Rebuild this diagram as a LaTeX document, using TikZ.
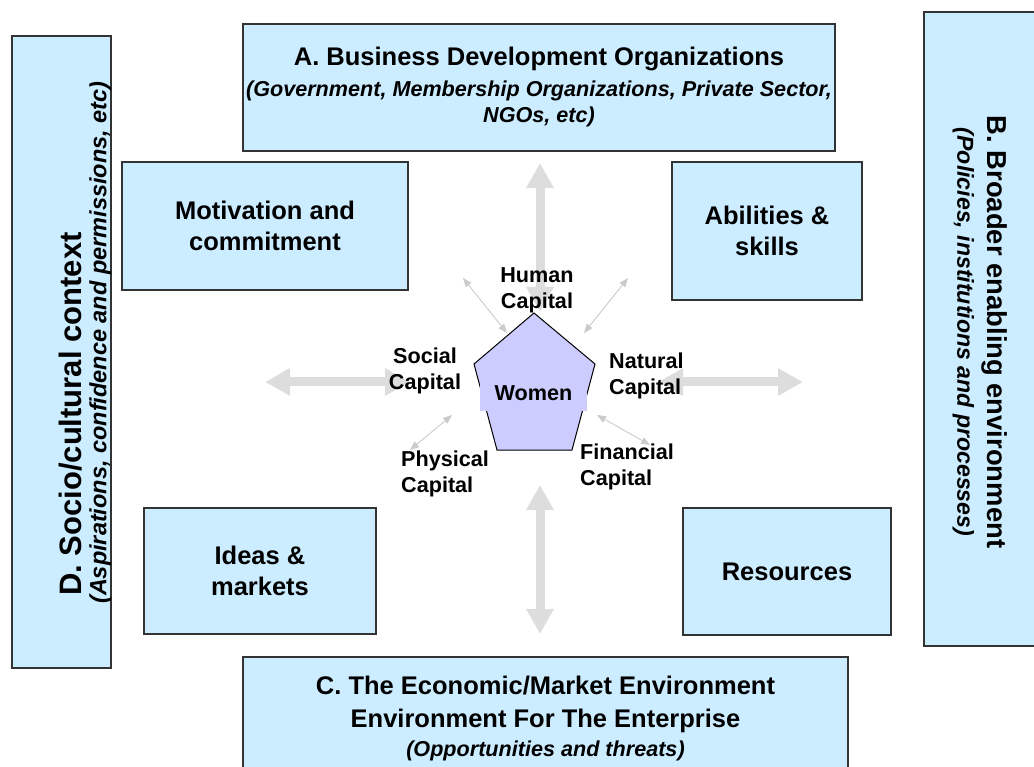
\documentclass[tikz,border=0pt]{standalone}
\usepackage{fontspec}
\setmainfont{Liberation Sans}
\usepackage{xcolor}
\usetikzlibrary{positioning,arrows.meta}

\definecolor{boxblue}{HTML}{CCECFF}
\definecolor{pentblue}{HTML}{CCCCFF}
\definecolor{arrowgrey}{HTML}{DDDDDD}
\newcommand{\boxfont}{\fontsize{25.5}{31}\selectfont\bfseries}
\newcommand{\capfont}{\fontsize{21.6}{26}\selectfont\bfseries}
\newcommand{\sidefont}{\fontsize{27.4}{33}\selectfont\bfseries}
\newcommand{\sidesubfont}{\fontsize{23.1}{28}\selectfont\bfseries\itshape}

\begin{document}
\begin{tikzpicture}[x=1pt, y=-1pt,
  box/.style={draw=black!80, line width=1.2pt, fill=boxblue, align=center, font=\boxfont, inner sep=0pt},
  caplabel/.style={align=center, font=\capfont, inner sep=0pt},
  bigarr/.style={draw=arrowgrey, line width=9pt, {Triangle[length=25pt,width=26pt]}-{Triangle[length=25pt,width=26pt]}},
  thinarr/.style={draw=arrowgrey!92!black, line width=0.9pt, {Triangle[length=9pt,width=7pt]}-{Triangle[length=9pt,width=7pt]}}]
\useasboundingbox (0,0) rectangle (1034,767);
\clip (0,0) rectangle (1034,767);

% outer frame
\node[box, minimum width=592pt, minimum height=127pt] (orgs) at (539,87.5)
  {A. Business Development Organizations\\
   \capfont\itshape (Government, Membership Organizations, Private Sector,\\[-5pt]
   \capfont\itshape NGOs, etc)};
\node[box, line width=1.8pt, minimum width=121pt, minimum height=634pt] (policy) at (984.5,329) {};
\node[font=\sidefont, align=center, rotate=-90, inner sep=0pt] (policytxt) at (980,332)
  {B. Broader enabling environment\\[-3pt]
   \sidesubfont (Policies, institutions and processes)};
\node[box, minimum width=605pt, minimum height=123pt] (econ) at (545.5,718.5)
  {C. The Economic/Market Environment\\[2pt]
   Environment For The Enterprise\\[-2pt]
   \capfont\itshape (Opportunities and threats)};
\node[box, minimum width=99pt, minimum height=632pt] (social) at (61.5,352) {};
\node[font=\fontsize{31}{25}\selectfont\bfseries, align=left, rotate=90, anchor=west, inner sep=0pt] (socialtxt) at (85,604)
  {\hspace*{8pt}D. Socio/cultural context\\
   \fontsize{23.5}{25}\selectfont\itshape (Aspirations, confidence and permissions, etc)};

% inner boxes
\node[box, minimum width=286pt, minimum height=128pt] (motiv) at (265,226) {Motivation and\\commitment};
\node[box, minimum width=190pt, minimum height=138pt] (skills) at (767,231) {Abilities \&\\skills};
\node[box, minimum width=232pt, minimum height=126pt] (ideas) at (260,571) {Ideas \&\\markets};
\node[box, minimum width=208pt, minimum height=127pt] (res) at (787,571.5) {Resources};

% big arrows
\coordinate (upA) at (540,163);
\coordinate (upB) at (540,312);
\coordinate (dnA) at (540,485);
\coordinate (dnB) at (540,634);
\coordinate (ltA) at (265,382);
\coordinate (ltB) at (410,382);
\coordinate (rtA) at (658,382);
\coordinate (rtB) at (803,382);
\draw[bigarr] (upA) -- (upB);
\draw[bigarr] (dnA) -- (dnB);
\draw[bigarr] (ltA) -- (ltB);
\draw[bigarr] (rtA) -- (rtB);

% small arrows
\coordinate (tlA) at (463,278);
\coordinate (tlB) at (507,333);
\coordinate (trA) at (628,278);
\coordinate (trB) at (584,333);
\coordinate (blA) at (452,415);
\coordinate (blB) at (410,450);
\coordinate (brA) at (597,415);
\coordinate (brB) at (650,445);
\draw[thinarr] (tlA) -- (tlB);
\draw[thinarr] (trA) -- (trB);
\draw[thinarr] (blA) -- (blB);
\draw[thinarr] (brA) -- (brB);

% pentagon
\coordinate (p1) at (534,313);
\coordinate (p2) at (595,364);
\coordinate (p3) at (572,450);
\coordinate (p4) at (497,450);
\coordinate (p5) at (474,364);
\draw[fill=pentblue, line width=1pt] (p1) -- (p2) -- (p3) -- (p4) -- (p5) -- cycle;
\node[fill=pentblue, font=\capfont, minimum width=107pt, minimum height=33pt, inner sep=0pt] (women) at (533.5,394.5) {\raisebox{2pt}{Women}};

\node[caplabel] (humancap) at (537,290) {Human\\Capital};
\node[caplabel] (socialcap) at (425,370.5) {Social\\Capital};
\node[caplabel, align=left, anchor=west] (naturalcap) at (609,376) {Natural\\Capital};
\node[caplabel, align=left, anchor=west] (physcap) at (401,474) {Physical\\Capital};
\node[caplabel, align=left, anchor=west] (fincap) at (580,466.5) {Financial\\Capital};
\end{tikzpicture}
\end{document}
